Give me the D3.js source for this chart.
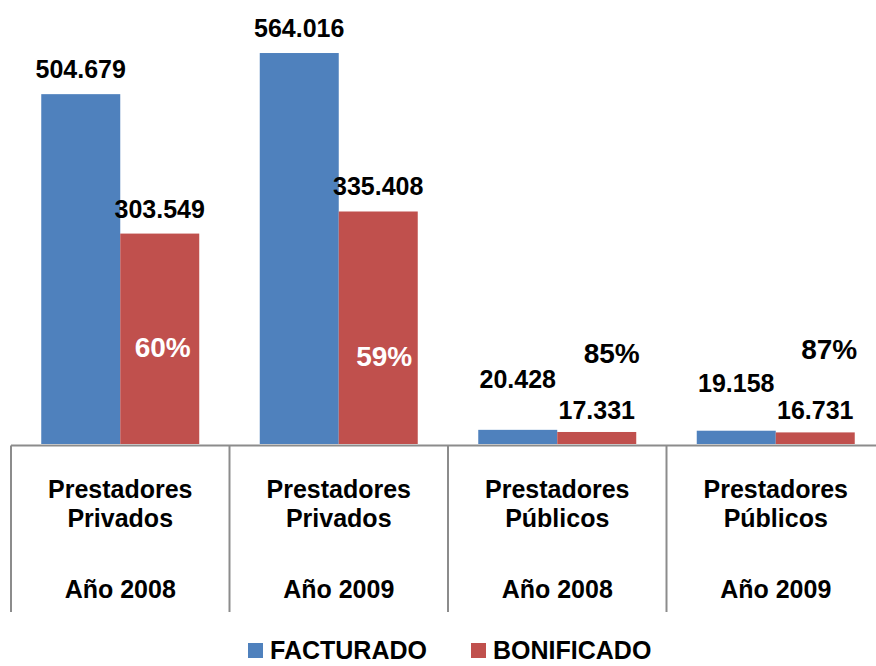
<!DOCTYPE html>
<html>
<head>
<meta charset="utf-8">
<script src="https://cdn.jsdelivr.net/npm/d3@7"></script>
<style>
  body { margin: 0; background: #fff; }
  text { font-family: "Liberation Sans", Arial, sans-serif; font-weight: bold; }
</style>
</head>
<body>
<div id="viz"></div>
<script>
// data
const groups = ["Prestadores|Privados|Año 2008", "Prestadores|Privados|Año 2009",
                "Prestadores|Públicos|Año 2008", "Prestadores|Públicos|Año 2009"];
const series = ["FACTURADO", "BONIFICADO"];
const facturado = [504.679, 564.016, 20.428, 19.158];
const bonificado = [303.549, 335.408, 17.331, 16.731];
const pctLabels = ["60%", "59%", "85%", "87%"];
const colors = ["#4F81BD", "#C0504D"];

// label nudges (px) – small bars had their labels moved by hand
const valueLift = [[16, 16], [16, 16], [42, 13], [39, 13]];
const pctOffset = [[3, 123], [6, 155], [15, -69], [14, -73]];

const W = 876, H = 666;
const base = 444;

const svg = d3.select("#viz").append("svg")
  .attr("width", W).attr("height", H);

const x0 = d3.scaleBand()
  .domain(groups)
  .range([11, 885])
  .paddingInner(0).paddingOuter(0);

const x1 = d3.scaleBand()
  .domain(series)
  .range([0, x0.bandwidth()])
  .paddingInner(0).paddingOuter(0.383);

const y = d3.scaleLinear()
  .domain([0, 600])
  .range([base, base - 600 * 0.6932]);

const rows = groups.map((g, i) => ({ g, i, vals: [facturado[i], bonificado[i]] }));
const fmt = d3.format(".3f");

const gGroup = svg.selectAll("g.grp")
  .data(rows)
  .enter().append("g")
  .attr("class", "grp")
  .attr("transform", d => `translate(${x0(d.g)},0)`);

gGroup.selectAll("rect")
  .data(d => d.vals.map((v, k) => ({ v, k, i: d.i })))
  .enter().append("rect")
  .attr("x", d => x1(series[d.k]))
  .attr("y", d => y(d.v))
  .attr("width", x1.bandwidth())
  .attr("height", d => y(0) - y(d.v))
  .attr("fill", d => colors[d.k]);

gGroup.selectAll("text.val")
  .data(d => d.vals.map((v, k) => ({ v, k, i: d.i })))
  .enter().append("text")
  .attr("class", "val")
  .attr("x", d => x1(series[d.k]) + x1.bandwidth() / 2)
  .attr("y", d => y(d.v) - valueLift[d.i][d.k])
  .attr("text-anchor", "middle")
  .style("font-size", "25px")
  .attr("fill", "#000")
  .text(d => fmt(d.v));

gGroup.append("text")
  .attr("class", "pct")
  .attr("x", d => x1("BONIFICADO") + x1.bandwidth() / 2 + pctOffset[d.i][0])
  .attr("y", d => y(d.vals[1]) + pctOffset[d.i][1])
  .attr("text-anchor", "middle")
  .style("font-size", "28px")
  .attr("fill", d => d.i < 2 ? "#fff" : "#000")
  .text(d => pctLabels[d.i]);

// category axis
const axis = svg.append("g");
axis.append("line")
  .attr("x1", 11).attr("x2", 885)
  .attr("y1", base + 1.5).attr("y2", base + 1.5)
  .attr("stroke", "#8c8c8c").attr("stroke-width", 2);

axis.selectAll("line.sep")
  .data(groups.concat(["end"]))
  .enter().append("line")
  .attr("class", "sep")
  .attr("x1", (d, i) => 11 + i * x0.step())
  .attr("x2", (d, i) => 11 + i * x0.step())
  .attr("y1", base + 1.5).attr("y2", 612)
  .attr("stroke", "#8c8c8c").attr("stroke-width", 2);

const lineY = [498, 527, 598];
groups.forEach(g => {
  g.split("|").forEach((t, j) => {
    axis.append("text")
      .attr("x", x0(g) + x0.bandwidth() / 2)
      .attr("y", lineY[j])
      .attr("text-anchor", "middle")
      .style("font-size", "25px")
      .text(t);
  });
});

// legend
const legendX = [248, 471];
const leg = svg.selectAll("g.leg")
  .data(series)
  .enter().append("g")
  .attr("class", "leg")
  .attr("transform", (d, i) => `translate(${legendX[i]},0)`);

leg.append("rect")
  .attr("x", 0).attr("y", 643)
  .attr("width", 15).attr("height", 15)
  .attr("fill", (d, i) => colors[i]);

leg.append("text")
  .attr("x", 22).attr("y", 659)
  .style("font-size", "25px")
  .text(d => d);
</script>
</body>
</html>
